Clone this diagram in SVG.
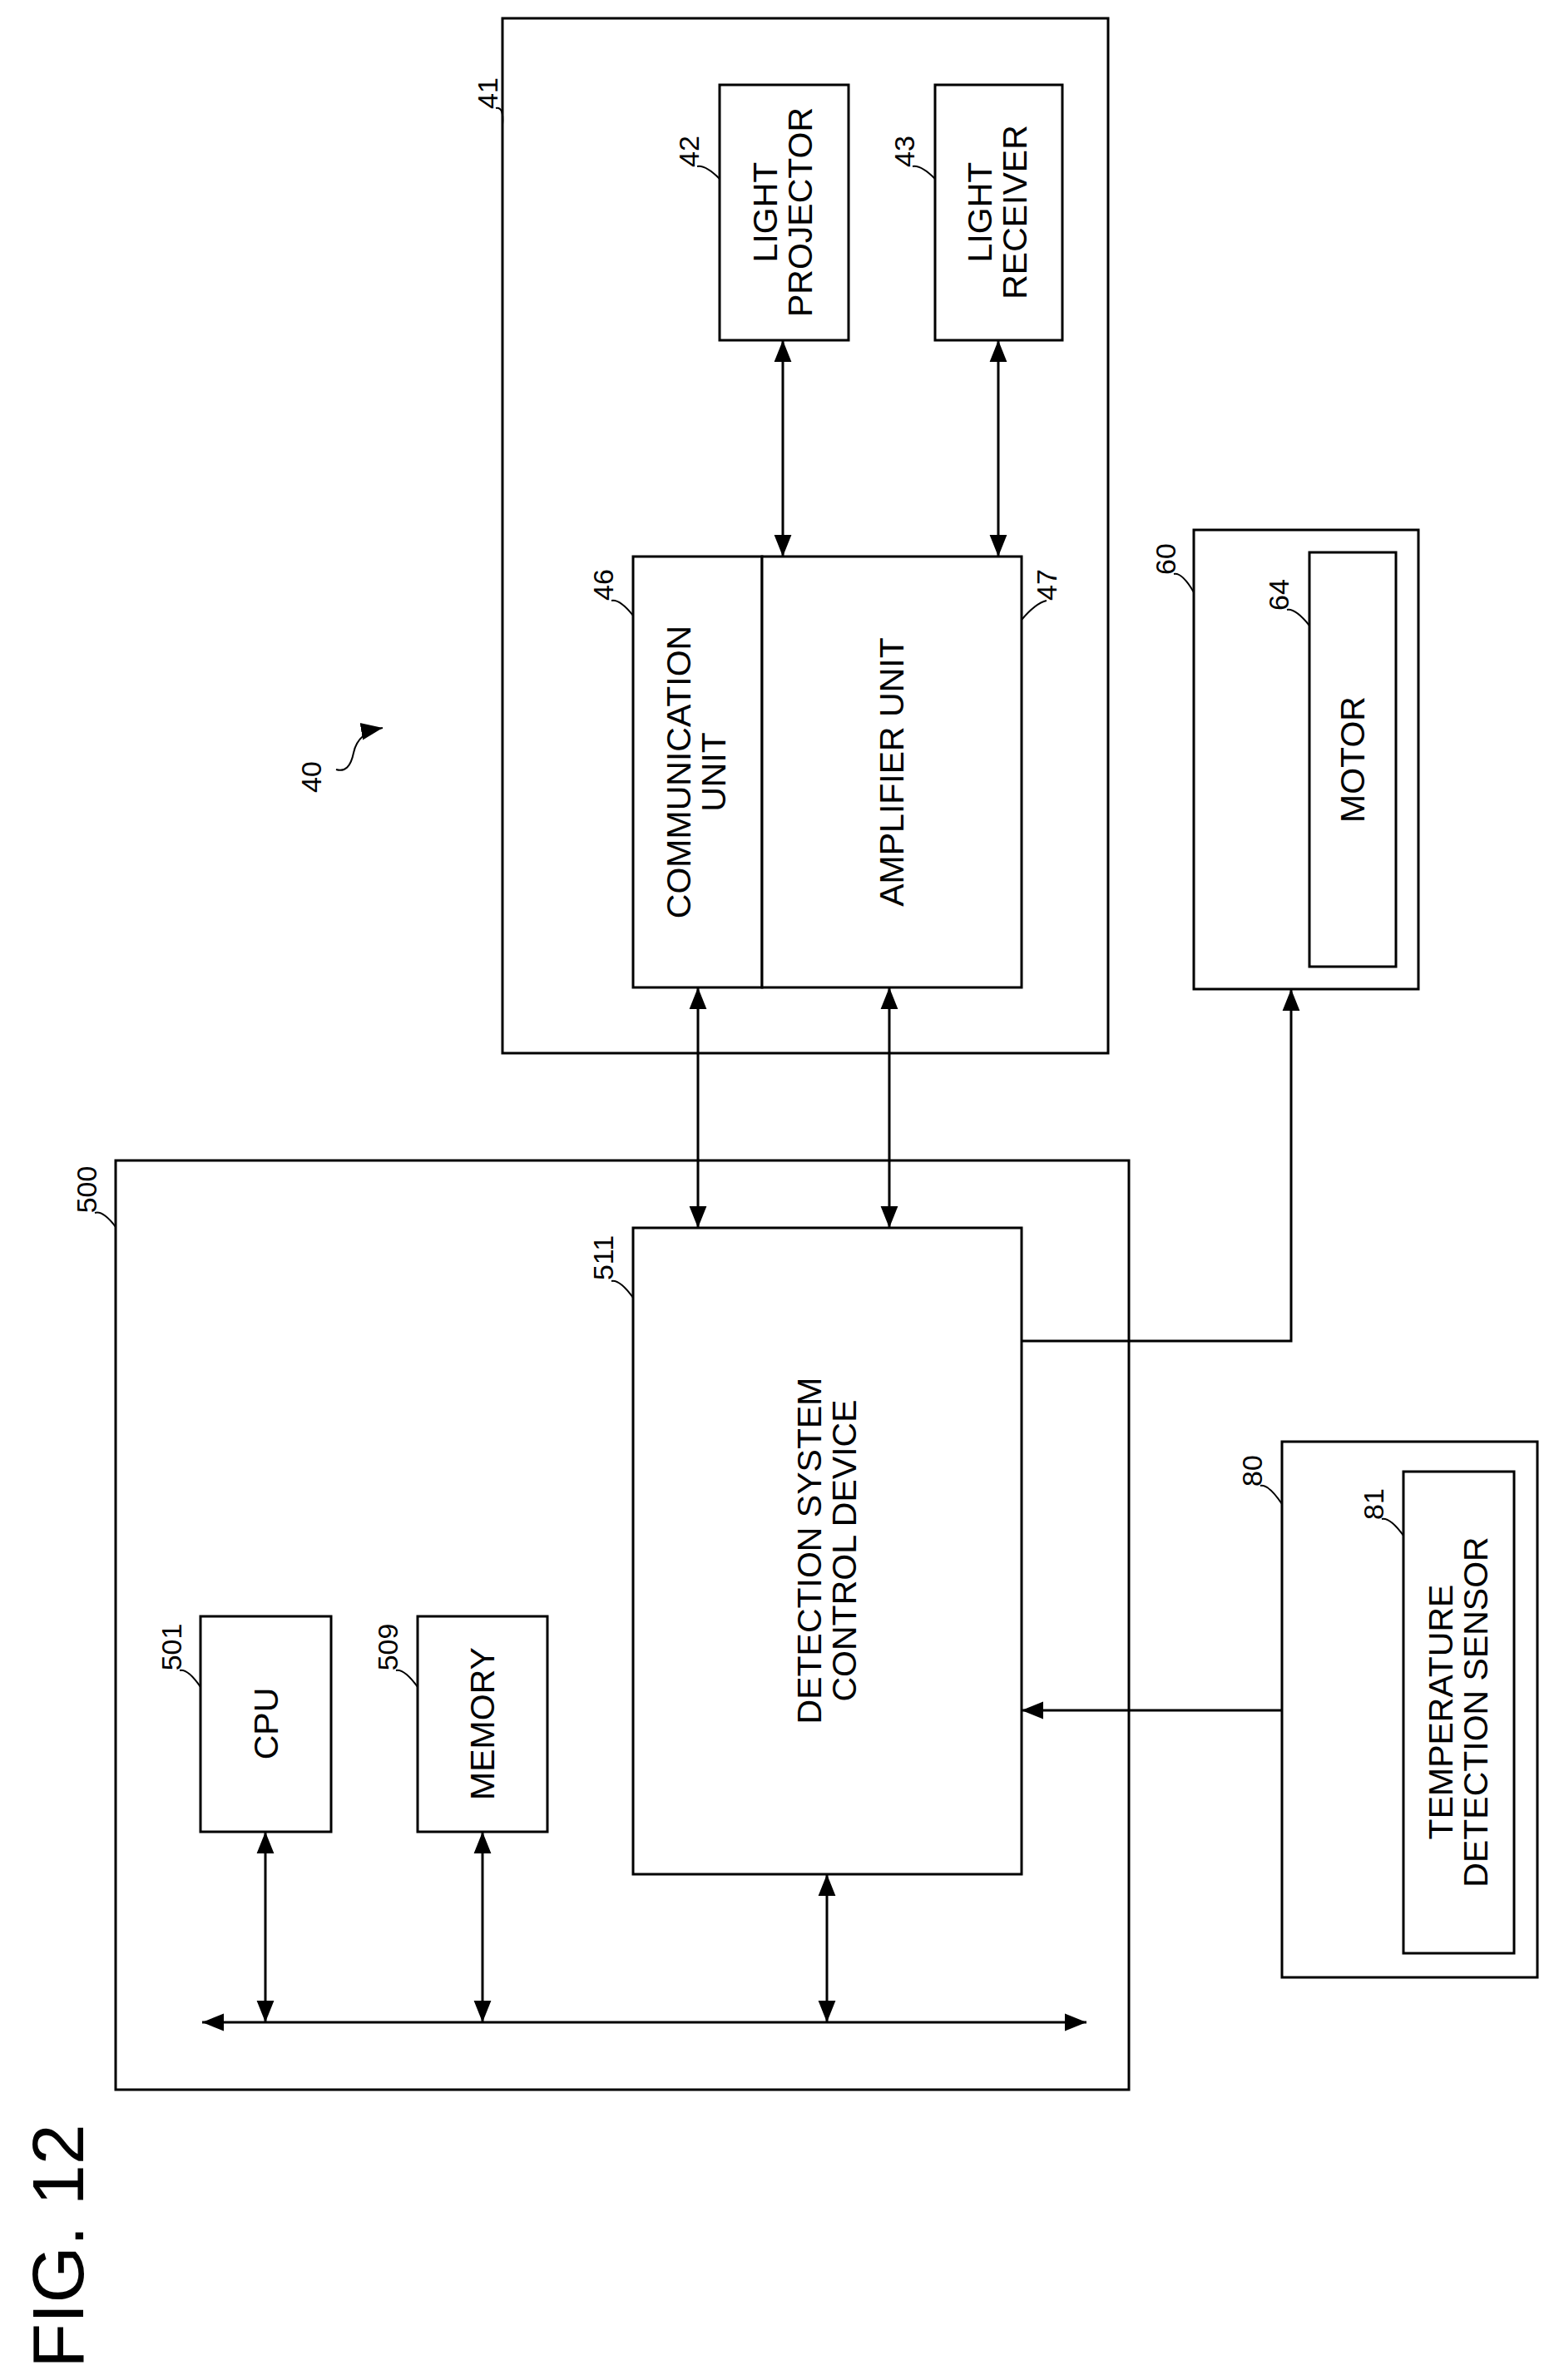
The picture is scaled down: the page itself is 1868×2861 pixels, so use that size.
<svg xmlns="http://www.w3.org/2000/svg" width="1868" height="2861" viewBox="0 0 1868 2861">
<defs>
<marker id="b" viewBox="0 0 10 10" refX="10" refY="5" markerWidth="26" markerHeight="26" markerUnits="userSpaceOnUse" orient="auto-start-reverse"><path d="M0,1 L10,5 L0,9 z" fill="#000"/></marker>
</defs>
<style>
rect{fill:#fff;stroke:#000;stroke-width:3}
.t{font-family:"Liberation Sans",Arial,sans-serif;font-size:41px;text-anchor:middle}
.l{font-family:"Liberation Sans",Arial,sans-serif;font-size:34px;text-anchor:middle}
.c line,.c path{stroke:#000;stroke-width:3;fill:none}
.ld{stroke:#000;stroke-width:2;fill:none}
</style>
<rect width="1868" height="2861" style="fill:#fff;stroke:none"/>
<g id="n41"><rect x="604" y="22" width="728" height="1244"/>
<text class="l" transform="translate(598,112) rotate(-90)">41</text><path class="ld" d="M596,130 Q606,128 604,150"/></g>
<g id="n42"><rect x="865" y="102" width="155" height="307"/>
<text class="t" transform="translate(942,255) rotate(-90)"><tspan x="0" y="-8">LIGHT</tspan><tspan x="0" y="34">PROJECTOR</tspan></text>
<text class="l" transform="translate(840,182) rotate(-90)">42</text><path class="ld" d="M838,200 Q848,198 865,215"/></g>
<g id="n43"><rect x="1124" y="102" width="153" height="307"/>
<text class="t" transform="translate(1200,255) rotate(-90)"><tspan x="0" y="-8">LIGHT</tspan><tspan x="0" y="34">RECEIVER</tspan></text>
<text class="l" transform="translate(1099,182) rotate(-90)">43</text><path class="ld" d="M1097,200 Q1107,198 1124,215"/></g>
<g id="n46"><rect x="761" y="669" width="155" height="518"/>
<text class="t" transform="translate(838,928) rotate(-90)"><tspan x="0" y="-8">COMMUNICATION</tspan><tspan x="0" y="34">UNIT</tspan></text>
<text class="l" transform="translate(737,703) rotate(-90)">46</text><path class="ld" d="M735,722 Q745,720 761,740"/></g>
<g id="n47"><rect x="916" y="669" width="312" height="518"/>
<text class="t" transform="translate(1086,928) rotate(-90)">AMPLIFIER UNIT</text>
<text class="l" transform="translate(1270,703) rotate(-90)">47</text><path class="ld" d="M1258,722 Q1245,725 1228,745"/></g>
<g id="n40"><text class="l" transform="translate(386,934) rotate(-90)">40</text>
<path class="ld" d="M404,925 Q420,930 425,905 Q430,880 460,875" marker-end="url(#b)"/></g>
<g id="n60"><rect x="1435" y="637" width="270" height="552"/>
<text class="l" transform="translate(1413,672) rotate(-90)">60</text><path class="ld" d="M1411,690 Q1421,688 1435,712"/></g>
<g id="n64"><rect x="1574" y="664" width="104" height="498"/>
<text class="t" transform="translate(1640,913) rotate(-90)">MOTOR</text>
<text class="l" transform="translate(1549,715) rotate(-90)">64</text><path class="ld" d="M1547,733 Q1557,731 1574,752"/></g>
<g id="n500"><rect x="139" y="1395" width="1218" height="1117"/>
<text class="l" transform="translate(116,1430) rotate(-90)">500</text><path class="ld" d="M114,1458 Q124,1455 139,1475"/></g>
<g id="n511"><rect x="761" y="1476" width="467" height="777"/>
<text class="t" transform="translate(995,1864) rotate(-90)"><tspan x="0" y="-8">DETECTION SYSTEM</tspan><tspan x="0" y="34">CONTROL DEVICE</tspan></text>
<text class="l" transform="translate(737,1512) rotate(-90)">511</text><path class="ld" d="M735,1540 Q745,1538 761,1560"/></g>
<g id="n501"><rect x="241" y="1943" width="157" height="259"/>
<text class="t" transform="translate(334,2072) rotate(-90)">CPU</text>
<text class="l" transform="translate(218,1980) rotate(-90)">501</text><path class="ld" d="M216,2008 Q226,2006 241,2028"/></g>
<g id="n509"><rect x="502" y="1943" width="156" height="259"/>
<text class="t" transform="translate(594,2072) rotate(-90)">MEMORY</text>
<text class="l" transform="translate(478,1980) rotate(-90)">509</text><path class="ld" d="M476,2008 Q486,2006 502,2028"/></g>
<g id="n80"><rect x="1541" y="1733" width="307" height="644"/>
<text class="l" transform="translate(1517,1768) rotate(-90)">80</text><path class="ld" d="M1515,1786 Q1525,1784 1541,1808"/></g>
<g id="n81"><rect x="1687" y="1769" width="133" height="579"/>
<text class="t" transform="translate(1754,2058) rotate(-90)"><tspan x="0" y="-8">TEMPERATURE</tspan><tspan x="0" y="34">DETECTION SENSOR</tspan></text>
<text class="l" transform="translate(1663,1808) rotate(-90)">81</text><path class="ld" d="M1661,1826 Q1671,1824 1687,1846"/></g>
<g id="connectors" class="c">
<line x1="941" y1="409" x2="941" y2="669" marker-start="url(#b)" marker-end="url(#b)"/>
<line x1="1200" y1="409" x2="1200" y2="669" marker-start="url(#b)" marker-end="url(#b)"/>
<line x1="839" y1="1187" x2="839" y2="1476" marker-start="url(#b)" marker-end="url(#b)"/>
<line x1="1069" y1="1187" x2="1069" y2="1476" marker-start="url(#b)" marker-end="url(#b)"/>
<path d="M1228,1612 H1552 V1189" marker-end="url(#b)"/>
<line x1="1541" y1="2056" x2="1228" y2="2056" marker-end="url(#b)"/>
<line x1="243" y1="2431" x2="1306" y2="2431" marker-start="url(#b)" marker-end="url(#b)"/>
<line x1="319" y1="2202" x2="319" y2="2431" marker-start="url(#b)" marker-end="url(#b)"/>
<line x1="580" y1="2202" x2="580" y2="2431" marker-start="url(#b)" marker-end="url(#b)"/>
<line x1="994" y1="2253" x2="994" y2="2431" marker-start="url(#b)" marker-end="url(#b)"/>
</g>
<text transform="translate(100,2700) rotate(-90)" style="font-family:'Liberation Sans',Arial,sans-serif;font-size:88px;text-anchor:middle">FIG. 12</text>
</svg>
